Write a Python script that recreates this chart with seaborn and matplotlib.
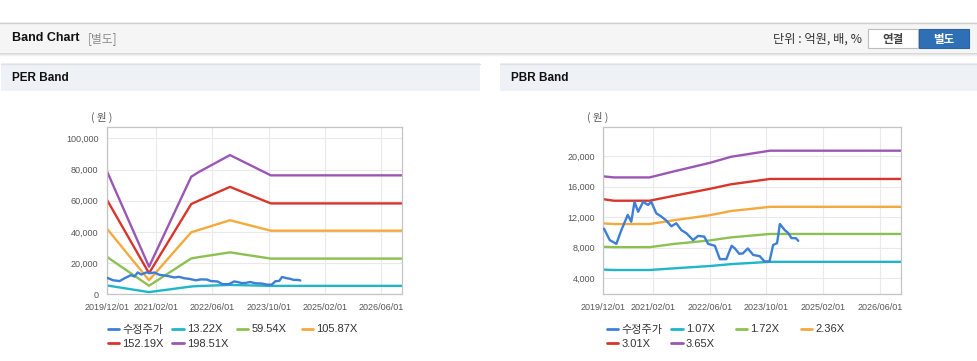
import pandas as pd
import numpy as np
import matplotlib.pyplot as plt
import matplotlib.dates as mdates
from matplotlib.lines import Line2D
from matplotlib.patches import Rectangle
from matplotlib.ticker import FuncFormatter
import seaborn as sns

# 수정주가 (same price series on both charts)
price_dates = ["2019-12-07", "2020-01-25", "2020-03-22", "2020-05-04", "2020-06-28",
               "2020-07-28", "2020-08-25", "2020-09-25", "2020-11-07", "2020-12-19",
               "2021-01-16", "2021-02-28", "2021-04-10", "2021-05-22", "2021-07-07",
               "2021-08-19", "2021-10-01", "2021-11-13", "2022-01-10", "2022-02-22",
               "2022-04-16", "2022-05-19", "2022-07-16", "2022-08-28", "2022-10-22",
               "2022-12-07", "2023-01-04", "2023-02-10", "2023-03-13", "2023-04-25",
               "2023-06-10", "2023-08-04", "2023-09-16", "2023-10-28", "2023-11-28",
               "2024-01-01", "2024-01-25", "2024-03-07", "2024-04-04", "2024-05-04",
               "2024-06-10", "2024-07-01"]
price_values = [10500, 9000, 8500, 10300, 12300, 11400, 14000, 12700, 14000, 13600,
                14000, 12500, 12100, 11600, 10800, 11200, 10300, 9900, 9000, 9550,
                9450, 8500, 8250, 6500, 6500, 8250, 7900, 7200, 7250, 7900,
                7050, 6900, 6200, 6200, 8350, 8600, 11100, 10300, 9950, 9250,
                9250, 8900]

# PER band
per_dates = ["2019-12-01", "2020-12-01", "2021-12-01", "2022-02-01",
             "2022-11-01", "2023-10-20", "2026-12-01"]
per_labels = ["13.22X", "59.54X", "105.87X", "152.19X", "198.51X"]
per_13 = [5700, 1400, 5000, 5300, 6000, 5400, 5400]
per_59 = [24100, 5500, 23000, 23800, 26900, 22900, 22900]
per_105 = [42300, 9000, 39800, 41200, 47500, 40800, 40800]
per_152 = [60900, 13500, 57900, 60000, 68900, 58300, 58300]
per_198 = [79300, 17700, 75400, 78300, 89300, 76300, 76300]

# PBR band
pbr_dates = ["2019-12-01", "2020-03-01", "2021-01-01", "2021-08-01",
             "2022-06-01", "2022-12-01", "2023-11-01", "2026-12-01"]
pbr_labels = ["1.07X", "1.72X", "2.36X", "3.01X", "3.65X"]
pbr_107 = [5130, 5080, 5080, 5300, 5600, 5850, 6150, 6150]
pbr_172 = [8120, 8070, 8070, 8500, 8950, 9350, 9800, 9800]
pbr_236 = [11180, 11100, 11100, 11600, 12250, 12800, 13350, 13350]
pbr_301 = [14350, 14150, 14150, 14800, 15700, 16300, 17000, 17000]
pbr_365 = [17340, 17200, 17200, 18000, 19100, 19900, 20700, 20700]

tick_dates = ["2019-12-01", "2021-02-01", "2022-06-01", "2023-10-01",
              "2025-02-01", "2026-06-01"]
per_yticks = [0, 20000, 40000, 60000, 80000, 100000]
pbr_yticks = [4000, 8000, 12000, 16000, 20000]

price_color = "#3d7ed6"
band_colors = ["#20b6ca", "#8cc152", "#f3aa3d", "#d8352b", "#9a57b3"]

sns.set_style("white")
plt.rcParams["font.family"] = ["Liberation Sans", "Noto Sans CJK KR"]
KR = ["Noto Sans CJK KR", "Liberation Sans"]

W, H = 978, 361
fig = plt.figure(figsize=(W / 100, H / 100), dpi=100)

# page background / headers in pixel coordinates
bg = fig.add_axes([0, 0, 1, 1])
bg.set_xlim(0, W)
bg.set_ylim(H, 0)
bg.axis("off")
bg.add_patch(Rectangle((0, 22), W, 30, facecolor="#f5f5f5", edgecolor="none"))
bg.plot([0, W], [22.5, 22.5], color="#cfcfcf", lw=1)
for i, c in enumerate(["#d6d6d6", "#e4e4e4", "#f0f0f0"]):
    bg.plot([0, W], [52.5 + i, 52.5 + i], color=c, lw=1)
bg.text(12, 38, "Band Chart", fontsize=9, fontweight="bold", color="#111", va="center")
bg.text(88, 39, "[별도]", fontsize=8.5, color="#8a8a8a", va="center", family=KR)
bg.text(862, 39, "단위 : 억원, 배, %", fontsize=8.8, color="#333", va="center",
        ha="right", family=KR)
bg.add_patch(Rectangle((868, 28.5), 50, 19, facecolor="white", edgecolor="#bdbdbd", lw=0.8))
bg.add_patch(Rectangle((919, 28.5), 50, 19, facecolor="#2f6fb6", edgecolor="#2a62a3", lw=0.8))
bg.text(893, 39.5, "연결", fontsize=8.3, fontweight="bold", color="#444", ha="center",
        va="center", family=KR)
bg.text(944, 39.5, "별도", fontsize=8.3, fontweight="bold", color="white", ha="center",
        va="center", family=KR)

for x0, x1, title in [(1, 480, "PER Band"), (500, W, "PBR Band")]:
    bg.add_patch(Rectangle((x0, 63), x1 - x0, 28, facecolor="#eef2f7", edgecolor="none"))
    bg.plot([x0, x1], [63.5, 63.5], color="#dde2e8", lw=1)
    bg.text(x0 + 11, 78, title, fontsize=8.5, fontweight="bold", color="#111", va="center")


def long_frame(dates, labels, series):
    rows = []
    for lab, vals in zip(labels, series):
        rows.append(pd.DataFrame({"date": pd.to_datetime(dates), "value": vals, "series": lab}))
    return pd.concat(rows, ignore_index=True)


price_df = pd.DataFrame({"date": pd.to_datetime(price_dates), "value": price_values})
xmin, xmax = pd.Timestamp("2019-12-01"), pd.Timestamp("2026-11-30")


def draw_panel(rect, dates, labels, series, ylim, yticks, ylab_x, leg_x):
    ax = fig.add_axes(rect)
    bands = long_frame(dates, labels, series)
    sns.lineplot(data=bands, x="date", y="value", hue="series", hue_order=labels,
                 palette=band_colors, linewidth=1.7, estimator=None, legend=False, ax=ax)
    sns.lineplot(data=price_df, x="date", y="value", color=price_color, linewidth=1.7,
                 estimator=None, ax=ax, zorder=5)
    ax.set_xlim(xmin, xmax)
    ax.set_ylim(*ylim)
    ax.set_xticks(pd.to_datetime(tick_dates))
    ax.xaxis.set_major_formatter(mdates.DateFormatter("%Y/%m/%d"))
    ax.set_yticks(yticks)
    ax.yaxis.set_major_formatter(FuncFormatter(lambda v, p: f"{int(v):,}"))
    ax.set_xlabel("")
    ax.set_ylabel("")
    ax.grid(True, color="#e9e9e9", linewidth=0.8)
    ax.set_axisbelow(True)
    for s in ax.spines.values():
        s.set_color("#c4c4c4")
        s.set_linewidth(0.9)
    ax.tick_params(axis="both", length=3, color="#cccccc", labelsize=6.5,
                   labelcolor="#555555", pad=3)
    bg.text(ylab_x, 117, "( 원 )", fontsize=7.5, color="#555", va="center", family=KR)

    names = ["수정주가"] + labels
    cols = [price_color] + band_colors
    for c in range(4):
        idx = [i for i in (c, c + 4) if i < len(names)]
        handles = [Line2D([], [], color=cols[i], lw=2) for i in idx]
        fig.legend(handles, [names[i] for i in idx], loc="upper left",
                   bbox_to_anchor=((leg_x + 64.7 * c) / W, 1 - 324.5 / H),
                   frameon=False, fontsize=8, handlelength=1.0,
                   handletextpad=0.3, borderpad=0, borderaxespad=0,
                   labelspacing=0.42, labelcolor="#333333")
    return ax


ax1 = draw_panel([106.7 / W, 1 - 294.3 / H, 295.6 / W, 167.6 / H], per_dates, per_labels,
                 [per_13, per_59, per_105, per_152, per_198], (0, 107500), per_yticks,
                 91, 107.7)
ax2 = draw_panel([603.3 / W, 1 - 294.3 / H, 297.7 / W, 167.6 / H], pbr_dates, pbr_labels,
                 [pbr_107, pbr_172, pbr_236, pbr_301, pbr_365], (1900, 23840), pbr_yticks,
                 587, 606.7)

fig.savefig("out.png", dpi=100)
